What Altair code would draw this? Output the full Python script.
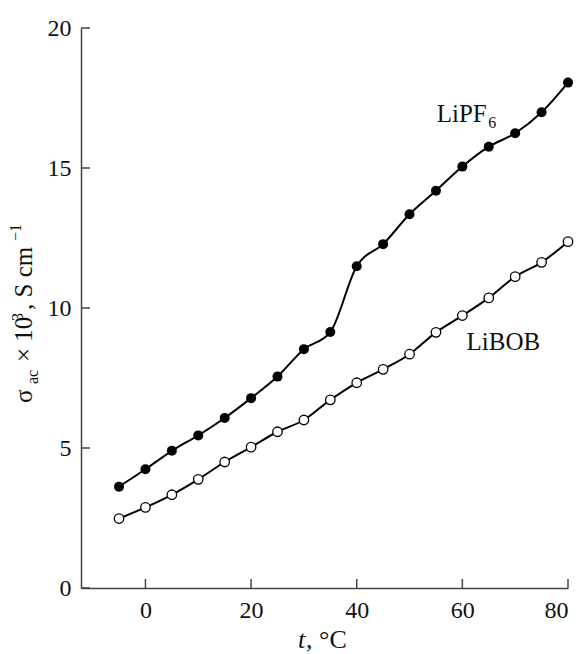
import altair as alt
import pandas as pd

# Temperature grid (°C) and ac conductivity (x 10^3, S/cm) for both salts
temps = [-5, 0, 5, 10, 15, 20, 25, 30, 35, 40, 45, 50, 55, 60, 65, 70, 75, 80]
lipf6 = [3.62, 4.24, 4.90, 5.45, 6.07, 6.78, 7.55, 8.53, 9.14, 11.49, 12.28,
         13.35, 14.19, 15.05, 15.76, 16.24, 16.99, 18.05]
libob = [2.48, 2.88, 3.33, 3.88, 4.50, 5.03, 5.58, 6.00, 6.72, 7.33, 7.81,
         8.35, 9.13, 9.73, 10.36, 11.12, 11.63, 12.37]

x_ticks = [0, 20, 40, 60, 80]
y_ticks = [0, 5, 10, 15, 20]

W, H = 487, 560
FONT = "Liberation Serif"

df_pf = pd.DataFrame({"t": temps, "s": lipf6})
df_bob = pd.DataFrame({"t": temps, "s": libob})

xs = alt.Scale(domain=[-12.2, 80], nice=False, zero=False)
ys = alt.Scale(domain=[0, 20], nice=False)

X = alt.X("t:Q", scale=xs,
          axis=alt.Axis(values=x_ticks, title=None, ticks=False, grid=False,
                        labelPadding=10))
Y = alt.Y("s:Q", scale=ys,
          axis=alt.Axis(values=y_ticks, title=None, ticks=False, grid=False,
                        labelPadding=10))

line_pf = alt.Chart(df_pf).mark_line(color="black", strokeWidth=2,
                                     interpolate="monotone").encode(x=X, y=Y)
pts_pf = alt.Chart(df_pf).mark_point(shape="circle", filled=True, color="black",
                                     size=100, opacity=1).encode(x=X, y=Y)
line_bob = alt.Chart(df_bob).mark_line(color="black", strokeWidth=2,
                                       interpolate="monotone").encode(x=X, y=Y)
pts_bob = alt.Chart(df_bob).mark_point(shape="circle", filled=True, fill="white",
                                       stroke="black", strokeWidth=1.3,
                                       size=90, opacity=1).encode(x=X, y=Y)

# inward tick marks
xt = alt.Chart(pd.DataFrame({"t": x_ticks})).mark_rule(color="#444", strokeWidth=1.5).encode(
    x=alt.X("t:Q", scale=xs), y=alt.value(H), y2=alt.value(H - 9))
yt = alt.Chart(pd.DataFrame({"s": y_ticks})).mark_rule(color="#444", strokeWidth=1.5).encode(
    y=alt.Y("s:Q", scale=ys), x=alt.value(0), x2=alt.value(9))

# series labels
lab = pd.DataFrame({"t": [55.15, 60.8], "s": [16.63, 8.5], "txt": ["LiPF", "LiBOB"]})
labels = alt.Chart(lab).mark_text(font=FONT, fontSize=25, align="left",
                                  baseline="alphabetic", color="#111").encode(
    x=alt.X("t:Q", scale=xs), y=alt.Y("s:Q", scale=ys), text="txt:N")
sub = pd.DataFrame({"t": [64.9], "s": [16.42], "txt": ["6"]})
sub6 = alt.Chart(sub).mark_text(font=FONT, fontSize=16, align="left",
                                baseline="alphabetic", color="#111").encode(
    x=alt.X("t:Q", scale=xs), y=alt.Y("s:Q", scale=ys), text="txt:N")


def piece(txt, px, py, size, angle=None, italic=False):
    kw = dict(font=FONT, fontSize=size, align="left", baseline="alphabetic",
              color="#111", text=txt)
    if angle is not None:
        kw["angle"] = angle
    if italic:
        kw["fontStyle"] = "italic"
    return alt.Chart(pd.DataFrame({"k": [0]})).mark_text(**kw).encode(
        x=alt.value(px), y=alt.value(py))


# x axis title: t, °C
xtitle = [piece("t", 217, 620, 26, italic=True),
          piece(", °C", 225, 620, 26)]

# y axis title: σ_ac × 10^3, S cm^-1 (rotated)
ytitle = [piece("σ", -49, 375, 25, angle=270),
          piece("ac", -43, 356, 16, angle=270),
          piece("× 10", -49, 334, 25, angle=270),
          piece("3", -58, 293, 16, angle=270),
          piece(", S cm", -49, 282, 25, angle=270),
          piece("−1", -60, 213, 16, angle=270)]

chart = alt.layer(line_pf, line_bob, pts_pf, pts_bob, xt, yt, labels, sub6,
                  *xtitle, *ytitle).properties(
    width=W, height=H,
    autosize=alt.AutoSizeParams(type="none"),
    padding={"left": 81, "top": 28, "right": 13, "bottom": 66},
).configure_view(stroke=None).configure_axis(
    labelFont=FONT, labelFontSize=24, labelColor="#111",
    domainColor="#444", domainWidth=1.5,
)

chart.save("out.html", embed_options={"renderer": "svg", "actions": False})
